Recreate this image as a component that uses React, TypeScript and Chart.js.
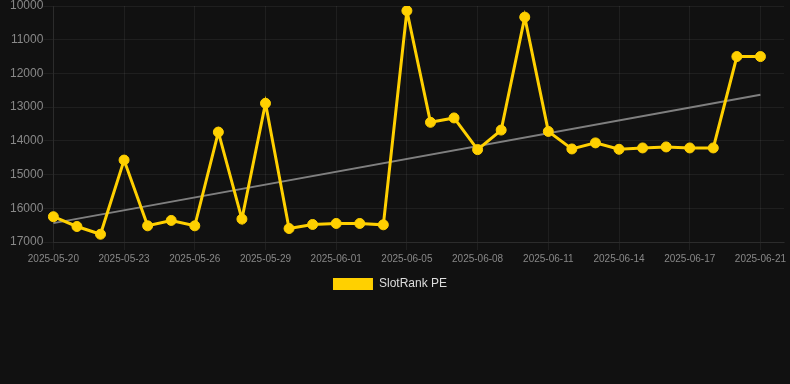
import React, { useEffect, useRef } from "react";
import { Chart, registerables } from "chart.js";

Chart.register(...registerables);

const dates: string[] = [
  "2025-05-20", "2025-05-21", "2025-05-22", "2025-05-23", "2025-05-24", "2025-05-25",
  "2025-05-26", "2025-05-27", "2025-05-28", "2025-05-29", "2025-05-30", "2025-05-31",
  "2025-06-01", "2025-06-02", "2025-06-03", "2025-06-05", "2025-06-06", "2025-06-07",
  "2025-06-08", "2025-06-09", "2025-06-10", "2025-06-11", "2025-06-12", "2025-06-13",
  "2025-06-14", "2025-06-15", "2025-06-16", "2025-06-17", "2025-06-18", "2025-06-20",
  "2025-06-21", "2025-06-22",
];

const rankValues: (number | null)[] = [
  16250, 16540, 16770, 14570, 16520, 16360, 16520, 13740, 16320, 12885, 16600, 16480,
  16450, 16450, 16490, 10140, 13450, 13320, 14260, 13680, 10330, 13720, 14240, 14060,
  14250, 14210, 14180, 14210, 14210, 11500, 11500, null,
];

const trendStart = 16440;
const trendEnd = 12630;
const trendEndIndex = 30;

const yMin = 10000;
const yMax = 17000;
const yStep = 1000;

const seriesName = "SlotRank PE";

const legendShift = {
  id: "legendShift",
  afterLayout(chart: any) {
    const l = chart.legend;
    if (l) {
      l.right -= 20;
      l.width -= 20;
    }
  },
};

export default function App() {
  const canvasRef = useRef<HTMLCanvasElement | null>(null);

  useEffect(() => {
    document.body.style.margin = "0";
    document.body.style.background = "#111111";
    const canvas = canvasRef.current;
    if (!canvas) return;

    const trendValues: (number | null)[] = dates.map((_, i) =>
      i === 0 ? trendStart : i === trendEndIndex ? trendEnd : null
    );

    const chart = new Chart(canvas, {
      type: "line",
      data: {
        labels: dates,
        datasets: [
          {
            label: seriesName,
            data: rankValues,
            borderColor: "#FFD000",
            backgroundColor: "#FFD000",
            borderWidth: 3,
            pointRadius: 5,
            pointBackgroundColor: "#FFD000",
            pointBorderColor: "#FFD000",
            pointBorderWidth: 1,
            tension: 0,
            fill: false,
          },
          {
            label: "trend",
            data: trendValues,
            borderColor: "rgba(140,140,140,0.9)",
            backgroundColor: "rgba(140,140,140,0.9)",
            borderWidth: 2,
            pointRadius: 0,
            spanGaps: true,
            fill: false,
          },
        ],
      },
      options: {
        animation: false,
        responsive: true,
        maintainAspectRatio: false,
        layout: { padding: { left: 10, right: 0, top: 0, bottom: 0 } },
        scales: {
          x: {
            grid: { color: "rgba(255,255,255,0.06)" },
            border: { color: "rgba(255,255,255,0.06)" },
            ticks: {
              color: "#888888",
              font: { size: 10 },
              maxRotation: 0,
              autoSkip: true,
              maxTicksLimit: 11,
            },
          },
          y: {
            reverse: true,
            min: yMin,
            max: yMax,
            grid: { color: "rgba(255,255,255,0.06)", tickLength: 10 },
            border: { color: "rgba(255,255,255,0.06)" },
            ticks: {
              stepSize: yStep,
              color: "#888888",
              padding: 0,
              font: { size: 12, lineHeight: 1 },
              callback: (v: any) => String(v),
            },
          },
        },
        plugins: {
          legend: {
            position: "bottom",
            labels: {
              color: "#dddddd",
              boxWidth: 40,
              boxHeight: 12,
              font: { size: 12 },
              generateLabels: (c: any) =>
                Chart.defaults.plugins.legend.labels
                  .generateLabels(c)
                  .filter((item: any) => item.datasetIndex === 0)
                  .map((item: any) => ({ ...item, lineWidth: 0 })),
            },
          },
          tooltip: { enabled: false },
        },
      },
      plugins: [legendShift],
    });
    return () => chart.destroy();
  }, []);

  return (
    <div style={{ width: 790, height: 384, background: "#111111" }}>
      <div style={{ position: "relative", width: 790, height: 300 }}>
        <canvas ref={canvasRef} />
      </div>
    </div>
  );
}
